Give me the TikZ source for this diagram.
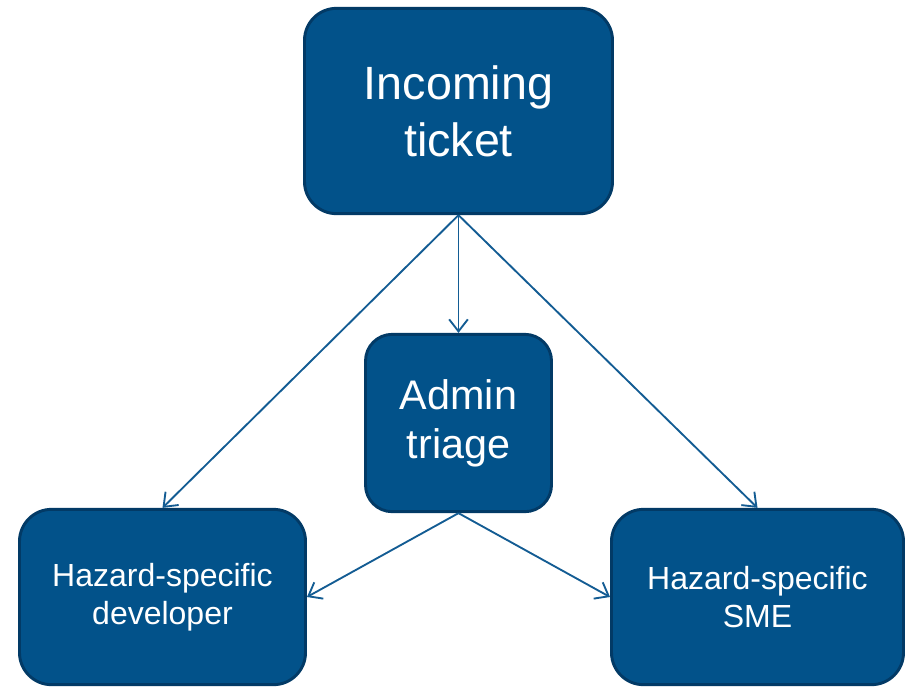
\documentclass[tikz,border=0pt]{standalone}
\usepackage{fontspec}
\setmainfont{Liberation Sans}
\usetikzlibrary{arrows.meta}

\definecolor{boxfill}{HTML}{02528A}
\definecolor{boxedge}{HTML}{023A66}
\definecolor{linkblue}{HTML}{135C93}

\begin{document}
\begin{tikzpicture}[x=0.75pt,y=-0.75pt,
		box/.style={draw=boxedge,fill=boxfill,line width=2.2pt,rounded corners=24pt,
			text=white,align=center,inner sep=0pt},
		link/.style={draw=linkblue,line width=1.4pt,-{Straight Barb[length=9pt,width=14pt,line width=1.4pt]}}]
		\useasboundingbox (0,0) rectangle (907,687);
		
		\node[box,minimum width=231pt,minimum height=154pt,font=\fontsize{35}{43}\selectfont] (ticket) at (458.5,111) {Incoming\\ticket};
		\node[box,minimum width=139.5pt,minimum height=133pt,rounded corners=20pt,font=\fontsize{31}{37}\selectfont] (triage) at (458.5,423) {Admin\\triage};
		
		\node[box,minimum width=214.5pt,minimum height=131.5pt,font=\fontsize{24}{28.5}\selectfont] (dev) at (162.5,597) {Hazard-specific\\developer};
		\node[box,minimum width=219pt,minimum height=131.5pt,font=\fontsize{24}{28.5}\selectfont] (sme) at (757.5,597) {Hazard-specific\\SME};
		
		\draw[link] (ticket.south) -- (triage.north);
		\draw[link] (ticket.south) -- (dev.north);
		\draw[link] (ticket.south) -- (sme.north);
		
		\draw[link] (triage.south) -- (dev.east);
		\draw[link] (triage.south) -- (sme.west);
	\end{tikzpicture}
\end{document}
